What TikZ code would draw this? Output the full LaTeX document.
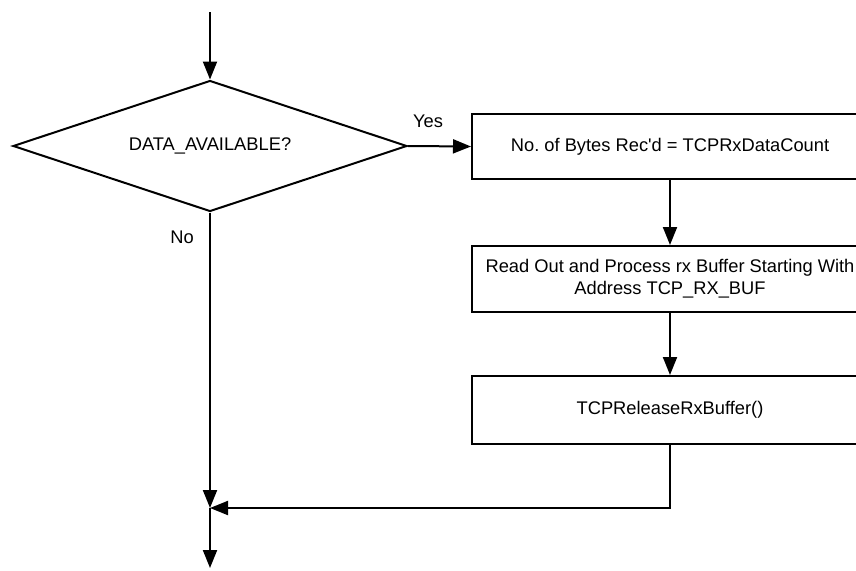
\documentclass[tikz,border=0pt]{standalone}
\usepackage{fontspec}
\setmainfont{Liberation Sans}[Ligatures=TeXOff]
\usetikzlibrary{shapes.geometric,arrows.meta}
\frenchspacing
\begin{document}
\begin{tikzpicture}[x=1pt,y=-1pt,
  every node/.style={font=\fontsize{18.3pt}{22pt}\selectfont, text=black},
  procbox/.style={draw=black, line width=2pt, rectangle, minimum width=396pt, inner sep=0pt, align=center},
  decbox/.style={draw=black, line width=2pt, diamond, aspect=3, minimum width=394pt, minimum height=131pt, inner sep=0pt},
  flow/.style={draw=black, line width=2pt, -{Triangle[length=18pt,width=14pt]}},
  lbl/.style={inner sep=0pt}]
\useasboundingbox (0,0) rectangle (856,570);
\clip (0,0) rectangle (856,570);
\coordinate (start) at (210,12);
\node[decbox] (dec) at (210,146) {DATA\_AVAILABLE?};
\node[procbox, minimum height=65pt] (b1) at (670,146.5) {No. of Bytes Rec'd = TCPRxDataCount};
\node[procbox, minimum height=66pt] (b2) at (670,279) {Read Out and Process rx Buffer Starting With\\Address TCP\_RX\_BUF};
\node[procbox, minimum height=68pt] (b3) at (670,410) {TCPReleaseRxBuffer()};
\coordinate (join) at (210,508);
\coordinate (stop) at (210,568);
\node[lbl] (yes) at (428,121) {Yes};
\node[lbl] (no) at (182,237) {No};
\draw[flow] (start) -- (dec.north);
\draw[flow] (dec.east) -- (b1.west);
\draw[flow] (b1.south) -- (b2.north);
\draw[flow] (b2.south) -- (b3.north);
\draw[flow] (dec.south) -- (join);
\draw[flow] (b3.south) |- (join);
\draw[flow] (join) -- (stop);
\end{tikzpicture}
\end{document}
